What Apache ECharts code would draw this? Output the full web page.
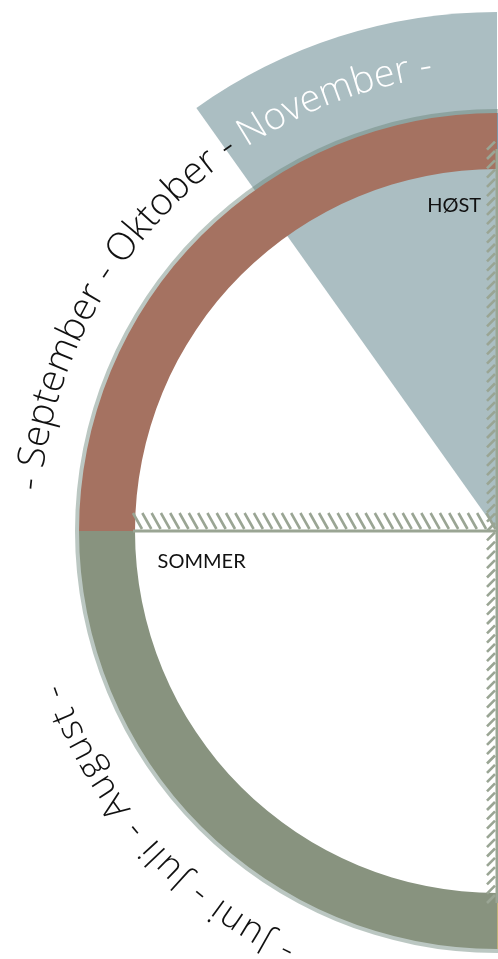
<!DOCTYPE html>
<html>
<head>
<meta charset="utf-8">
<script src="https://cdn.jsdelivr.net/npm/echarts@6/dist/echarts.min.js"></script>
<style>
  html, body { margin: 0; padding: 0; background: #fff; }
  #chart { width: 498px; height: 959px; }
</style>
</head>
<body>
<div id="chart"></div>
<script>
// årshjul - months are counted clockwise from 1 desember at 12 o'clock
const seasonNames = ['VINTER', 'VÅR', 'SOMMER', 'HØST']
const seasonLength = [3, 3, 3, 3]
const seasonMonths = [
  ['Desember', 'Januar', 'Februar'],
  ['Mars', 'April', 'Mai'],
  ['Juni', 'Juli', 'August'],
  ['September', 'Oktober', 'November']
]
// highlighted wedge (months from 1 desember)
const highlightFrom = 10.82
const highlightTo = 12

// layout
const CX = 497
const CY = 531
const R_IN = 362
const R_OUT = 418
const R_HL = 519
const seasonColors = ['#7f97a6', '#c2b27a', '#88937f', '#a57261']
const hatchColor = '#9aa594'

// label places [radius px, months]
const seasonLabelAt = { 2: [297, 8.8], 3: [328, 11.75] }
// curved month text: centre (months), dash-to-dash span (deg), font size
const arcText = {
  2: { r: 470, mid: 7.61, span: 43.4, size: 36 },
  3: { r: 469, mid: 10.45, span: 75.5, size: 38 }
}
// season dividers, from/to as [radius px, months]
const dividers = [
  { from: [372, 6], to: [382, 0], depth: 8, skew: 8 },
  { from: [364, 9], to: [0, 0], depth: 16, skew: 9 }
]

const measure = document.createElement('canvas').getContext('2d')

const chart = echarts.init(document.getElementById('chart'))

function renderDivider (params, api) {
  const d = dividers[api.value(2)]
  const a = api.coord(d.from)
  const b = api.coord(d.to)
  const len = Math.hypot(b[0] - a[0], b[1] - a[1])
  const t = [(b[0] - a[0]) / len, (b[1] - a[1]) / len]
  const n = [t[1], -t[0]]
  const gap = 2
  const children = [{
    type: 'line',
    shape: { x1: a[0], y1: a[1], x2: b[0], y2: b[1] },
    style: { stroke: hatchColor, lineWidth: 3 }
  }]
  for (let s = 0; s < len; s += 9.3) {
    children.push({
      type: 'line',
      shape: {
        x1: a[0] + s * t[0] + (gap + d.depth) * n[0],
        y1: a[1] + s * t[1] + (gap + d.depth) * n[1],
        x2: a[0] + (s + d.skew) * t[0] + gap * n[0],
        y2: a[1] + (s + d.skew) * t[1] + gap * n[1]
      },
      style: { stroke: hatchColor, lineWidth: 2.6 }
    })
  }
  return { type: 'group', children }
}

function renderArcText (params, api) {
  const idx = api.value(2)
  const L = arcText[idx]
  const r = api.value(0)
  const text = '- ' + seasonMonths[idx].join(' - ') + ' -'
  const chars = Array.from(text)
  const font = '300 ' + L.size + 'px "Open Sans"'
  measure.font = font
  const widths = chars.map(c => measure.measureText(c).width)
  const natural = widths.reduce((x, y) => x + y, 0)
  const target = L.span * Math.PI / 180 * r + widths[0] / 2 + widths[widths.length - 1] / 2
  const spacing = (target - natural) / (chars.length - 1)
  let s = -target / 2
  const children = []
  chars.forEach((ch, i) => {
    const c = s + widths[i] / 2
    const deg = api.value(1) * 30 + c / r * 180 / Math.PI
    const p = api.coord([r, deg / 30])
    const onHighlight = deg > highlightFrom * 30 + 1.2 && deg < highlightTo * 30
    children.push({
      type: 'text',
      x: p[0],
      y: p[1],
      rotation: -deg * Math.PI / 180,
      style: {
        text: ch,
        font: font,
        fill: onHighlight ? '#ffffff' : '#111111',
        align: 'center',
        verticalAlign: 'middle'
      }
    })
    s += widths[i] + spacing
  })
  return { type: 'group', children }
}

function renderLabel (params, api) {
  const p = api.coord([api.value(0), api.value(1)])
  return {
    type: 'text',
    x: p[0],
    y: p[1],
    style: {
      text: seasonNames[api.value(2)],
      font: '20px Lato',
      fill: '#111111',
      align: 'center',
      verticalAlign: 'middle'
    }
  }
}

const hl = highlightTo - highlightFrom

const option = {
  animation: false,
  backgroundColor: '#ffffff',
  polar: { center: [CX, CY], radius: R_HL },
  angleAxis: {
    type: 'value',
    min: 0,
    max: 12,
    startAngle: 90,
    clockwise: true,
    show: false
  },
  radiusAxis: { type: 'value', min: 0, max: R_HL, show: false },
  series: [
    {
      // highlighted wedge
      type: 'pie',
      z: 1,
      silent: true,
      center: [CX, CY],
      radius: [0, R_HL],
      startAngle: 90 - highlightFrom * 30,
      clockwise: true,
      padAngle: 0,
      label: { show: false },
      labelLine: { show: false },
      emphasis: { disabled: true },
      itemStyle: { borderWidth: 0 },
      data: [
        { value: hl, itemStyle: { color: '#abbec2' } },
        { value: 12 - hl, itemStyle: { color: 'rgba(0,0,0,0)' } }
      ]
    },
    {
      // soft rim under the ring
      type: 'pie',
      z: 2,
      silent: true,
      center: [CX, CY],
      radius: [R_OUT - 1, R_OUT + 4],
      label: { show: false },
      labelLine: { show: false },
      emphasis: { disabled: true },
      itemStyle: { borderWidth: 0, color: 'rgba(105,130,120,0.45)' },
      data: [1]
    },
    {
      type: 'pie',
      z: 3,
      silent: true,
      center: [CX, CY],
      radius: [R_IN, R_OUT],
      startAngle: 90,
      clockwise: true,
      padAngle: 0,
      label: { show: false },
      labelLine: { show: false },
      emphasis: { disabled: true },
      itemStyle: { borderWidth: 0 },
      data: seasonNames.map((name, i) => ({
        name,
        value: seasonLength[i],
        itemStyle: { color: seasonColors[i] }
      }))
    },
    {
      type: 'custom',
      coordinateSystem: 'polar',
      z: 4,
      silent: true,
      renderItem: renderDivider,
      data: dividers.map((d, i) => [d.from[0], d.from[1], i])
    },
    {
      type: 'custom',
      coordinateSystem: 'polar',
      z: 5,
      silent: true,
      renderItem: renderLabel,
      data: Object.keys(seasonLabelAt).map(k => [seasonLabelAt[k][0], seasonLabelAt[k][1], +k])
    },
    {
      type: 'custom',
      coordinateSystem: 'polar',
      z: 5,
      silent: true,
      renderItem: renderArcText,
      data: Object.keys(arcText).map(k => [arcText[k].r, arcText[k].mid, +k])
    }
  ]
}

chart.setOption(option)
</script>
</body>
</html>
